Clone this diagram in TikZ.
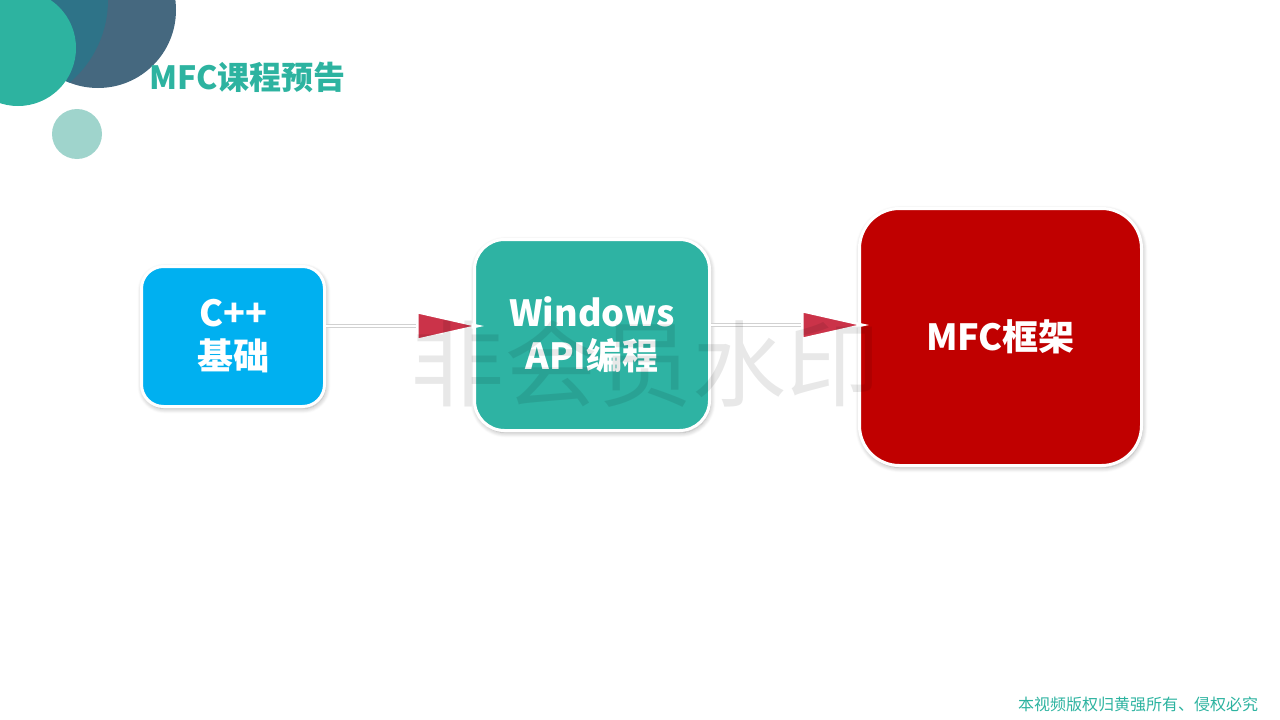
\documentclass[tikz,border=0pt]{standalone}
\usepackage{fontspec}
\setmainfont{Noto Sans CJK SC}
\usetikzlibrary{arrows.meta,shadows.blur}

\definecolor{tealc}{HTML}{2DB3A0}
\definecolor{slatec}{HTML}{45687F}
\definecolor{deepc}{HTML}{2E7388}
\definecolor{mintc}{HTML}{9FD4CC}
\definecolor{bluec}{HTML}{00B0F0}
\definecolor{boxteal}{HTML}{2EB3A3}
\definecolor{redc}{HTML}{C00000}
\definecolor{arrowred}{HTML}{CB3349}

\tikzset{
  stepbox/.style={rounded corners=#1, draw=white, line width=3pt, text=white,
    font=\fontsize{36}{43}\selectfont\bfseries, align=center,
    blur shadow={shadow xshift=1pt, shadow yshift=-2pt, shadow opacity=35,
      shadow blur radius=5pt, shadow blur steps=8}},
}

\begin{document}
\begin{tikzpicture}[x=1pt,y=-1pt]
        \useasboundingbox (0,0) rectangle (1280,720);

        % corner circles
        \fill[slatec] (98,10) circle (78);
        \begin{scope}
            \clip (98,10) circle (78);
            \fill[deepc] (0,0) circle (108);
        \end{scope}
        \fill[tealc] (18,48) circle (58);
        \fill[mintc] (77,134) circle (25);

        \node[anchor=west, text=tealc, font=\fontsize{32}{38}\selectfont\bfseries,
            inner sep=0pt] (title) at (149,77) {MFC课程预告};

        \begin{scope}[every node/.style={stepbox=22pt}]
            \node[fill=bluec, minimum width=183pt, minimum height=140pt]
                (cpp) at (233,336.5) {C++\\基础};
            \node[fill=boxteal, minimum width=235pt, minimum height=191pt, rounded corners=30pt]
                (api) at (592,335) {Windows\\API编程};
            \node[fill=redc, minimum width=282pt, minimum height=257pt, rounded corners=40pt]
                (mfc) at (1000.5,337) {MFC框架};
        \end{scope}

        \begin{scope}[
            every edge/.style={draw=black!18, line width=4.5pt}]
            \path [-] ([yshift=10.5pt]cpp.east) edge ([yshift=9pt]api.west);
            \path [-] ([yshift=10pt]api.east) edge ([yshift=12pt]mfc.west);
        \end{scope}

        \begin{scope}[
            every edge/.style={draw=white, line width=2pt, shorten >=-11pt}]
            \path [-{Triangle[length=68pt,width=30pt,fill=arrowred,line width=2.5pt]}]
                ([yshift=10.5pt]cpp.east) edge ([yshift=9pt]api.west);
            \path [-{Triangle[length=68pt,width=30pt,fill=arrowred,line width=2.5pt]}]
                ([yshift=10pt]api.east) edge ([yshift=12pt]mfc.west);
        \end{scope}

        % watermark
        \node[text=black, text opacity=0.09, font=\fontsize{94}{100}\selectfont,
            inner sep=0pt] (mark) at (645,364) {非会员水印};

        \node[text=tealc, font=\fontsize{16}{19}\selectfont, inner sep=0pt]
            (note) at (1138,704) {本视频版权归黄强所有、侵权必究};
\end{tikzpicture}
\end{document}
